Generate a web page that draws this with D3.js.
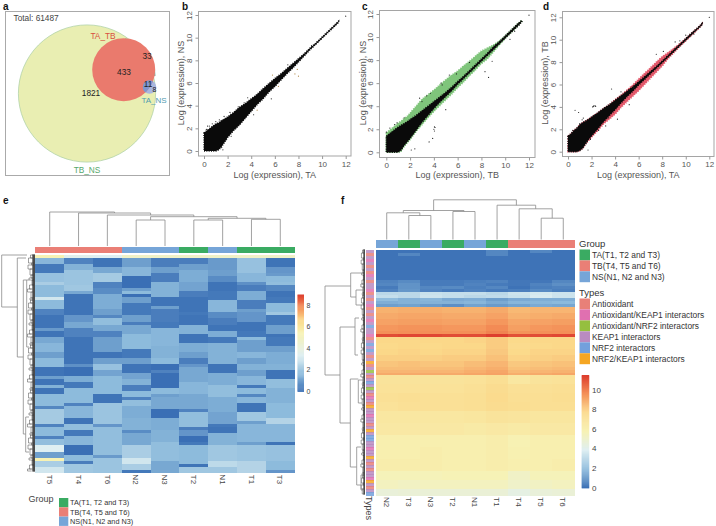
<!DOCTYPE html>
<html>
<head>
<meta charset="utf-8">
<script src="https://cdn.jsdelivr.net/npm/d3@7"></script>
<style>
  html, body { margin: 0; background: #fff; }
  svg { display: block; font-family: "Liberation Sans", Arial, sans-serif; }
</style>
</head>
<body>
<svg id="fig" width="716" height="526"></svg>
<script>
// ---- panel a
const vennSets = ["TB_NS", "TA_TB", "TA_NS"];
const vennSizes = [2262, 477, 19];
const vennCounts = [1821, 433, 33, 11, 8];
const vennTotal = 61487;

// ---- panels b, c, d : envelope of the dense clouds
const bandX = [0,.25,.5,.75,1,1.25,1.5,1.75,2,2.5,3,3.5,4,4.5,5,5.5,6,6.5,7,7.5,8,8.5,9,9.5,10,10.5,11,11.4];
const bHi = [1.6,1.8,2,2.2,2.4,2.5,2.7,2.85,3,3.4,3.85,4.2,4.6,5,5.5,5.95,6.4,6.8,7.25,7.7,8.15,8.6,9.1,9.55,10.05,10.55,11.05,11.45];
const bLo = [0,0,0,0,0,.1,.4,.8,1.2,1.8,2.3,2.9,3.5,4.1,4.6,5.2,5.7,6.25,6.8,7.3,7.85,8.4,8.95,9.45,9.95,10.45,10.95,11.35];
const cHi = [1.4,1.6,1.8,2,2.2,2.35,2.5,2.65,2.85,3.2,3.6,4,4.4,4.8,5.2,5.65,6.15,6.6,7.1,7.6,8.1,8.6,9.15,9.6,10.1,10.6,11.1,11.45];
const cLo = [0,0,0,0,0,.2,.6,.9,1.2,1.9,2.6,3.2,3.8,4.35,4.85,5.35,5.9,6.4,6.9,7.4,7.9,8.4,8.9,9.4,9.9,10.4,10.9,11.35];
const cDegHi = [1.7,1.9,2.1,2.3,2.55,2.7,2.95,3.1,3.4,4,4.6,5,5.4,5.85,6.3,6.7,7.05,7.5,7.9,8.35,8.8,9.05,9.3,9.65,10.1,10.6,11.1,11.45];
const cDegLo = [0,0,0,0,0,.1,.5,.8,1.1,1.8,2.4,3,3.55,4.05,4.55,5.05,5.6,6.1,6.65,7.15,7.7,8.1,8.7,9.3,9.9,10.4,10.9,11.35];
const dHi = [1.4,1.6,1.9,2.1,2.4,2.6,2.75,2.9,3.1,3.45,3.85,4.2,4.6,5,5.4,5.8,6.25,6.7,7.15,7.6,8.1,8.6,9.1,9.6,10.1,10.6,11.05,11.45];
const dLo = [0,0,0,0,.1,.3,.7,1.1,1.4,2,2.65,3.2,3.75,4.35,4.9,5.4,5.95,6.45,6.95,7.45,7.95,8.45,8.95,9.45,9.95,10.45,10.95,11.35];
const dDegHi = [1.4,1.6,1.9,2.1,2.4,2.6,2.75,2.9,3.1,3.45,3.85,4.2,4.65,5.05,5.5,5.95,6.5,7,7.5,8,8.5,8.85,9.25,9.65,10.1,10.6,11.05,11.45];
const dDegLo = [0,0,0,0,.1,.3,.7,1,1.3,1.85,2.45,2.9,3.35,3.95,4.45,4.95,5.45,6,6.55,7.1,7.65,8.3,8.85,9.4,9.9,10.4,10.9,11.35];

// single points away from the clouds
const bPtsX = [.3,.2,.45,.7,1,1.3,1.6,1.9,2.3,2.7,3.1,3.7,4.2,4.5,5.7,5.8,6.3,7.1,7.7,7.9,8,9.1,11.1,11.2,11.3,11.4,12,1.7,1.5,2.2,2.9,3.4];
const bPtsY = [2.2,1.9,2.2,2.4,2.6,2.75,.1,1,1.3,2,2.4,4.7,3.2,3.6,4.6,6.7,5.7,7.6,6.8,7.2,6.6,9.3,11.1,11.2,11.3,11.45,11.9,3.05,.3,3.4,3.9,4.25];
const cPtsX = [0,.3,.7,.9,2.4,2.8,3,3.4,3.7,4,4.05,4.1,4.05,3.6,3.9,5,4.7,5.9,8.6,8.3,8.9,10.4,10.8,11.1,11.3,11.2,11,12,2.1,1.5,4.6,5.3,7];
const cPtsY = [1.75,2.1,2.4,2.55,.3,4.7,4.4,4.9,5.1,2,2.2,2.15,1.85,.9,1.2,3.7,5.85,6.8,6.5,7,7.9,9.8,10.5,11.15,11.2,11.05,10.9,11.9,.2,3,6,6.7,7.8];
const dPtsX = [.6,.9,1,1.3,1.5,2.15,2.2,2.3,2.35,2.1,3.7,.8,.4,1.2,1.7,3.2,3.4,4.2,4.5,5.6,5.2,7.5,8.1,9.1,9.5,10,10.7,11.1,11.3,11.35,12,2.6,1.6,1.9];
const dPtsY = [3.7,3.5,2.5,3,2.7,4.05,4.1,4.1,4.05,4,5.6,2.1,1.9,2.85,.15,2.3,3,2.9,5.35,5.7,4.2,8.7,8.95,9.8,9.9,10.4,10.5,11.1,11.3,11.45,12,1.9,.9,1.1];

// ---- panel e, one [value, last row] list per sample
const eRows = 72;
const eT5 = [[5.4,1],[1.5,3],[.2,6],[1.8,9],[2.2,10],[1.6,14],[3,15],[1.6,18],[.4,20],[.1,24],[.9,25],[.1,27],[1.2,29],[1.5,32],[1,34],[1.6,37],[.1,40],[1,41],[.1,43],[1.4,44],[.1,46],[1.6,50],[.5,51],[2.1,56],[.4,57],[1.6,60],[.4,61],[1.7,63],[3.3,65],[1,67],[5.4,68],[2.2,70],[3,72]];
const eT4 = [[3.5,1],[.4,3],[1.4,5],[1.9,10],[2,12],[1.2,13],[.1,20],[.8,22],[1.2,24],[.4,27],[.1,36],[.7,37],[0,40],[1.3,42],[.2,44],[1.6,49],[.4,50],[1.5,54],[.1,56],[1.7,58],[.2,60],[1.5,63],[0,66],[1.6,68],[.3,69],[2,72]];
const eT6 = [[3.3,1],[.1,4],[1.2,6],[2.1,9],[.4,11],[.6,13],[1.3,18],[1,20],[.5,21],[1.7,23],[1.2,25],[.4,27],[1,32],[.1,34],[1,36],[1.8,38],[1.1,40],[1.6,46],[.1,49],[1.9,56],[.8,57],[1.7,66],[.9,67],[1.9,72]];
const eN2 = [[4.8,1],[1,4],[1.5,7],[0,11],[1,12],[1.6,13],[0,14],[1,16],[.2,20],[1,22],[.3,23],[1.2,26],[1.6,31],[.2,34],[1,36],[.1,39],[1.1,41],[1.4,43],[.3,45],[1.6,47],[.4,48],[1.7,50],[1.3,54],[1.4,58],[.6,59],[1.2,63],[2.2,67],[3,69],[2.2,71],[.2,72]];
const eN3 = [[4.8,1],[.3,4],[1,6],[.3,9],[1.4,14],[.1,17],[1,18],[.3,22],[.2,24],[1.5,30],[1.4,34],[1.6,36],[0,38],[.4,39],[0,44],[1.6,46],[1,47],[1.2,51],[0,54],[1.3,58],[1.4,62],[1.7,68],[1.2,72]];
const eT2 = [[4.8,1],[.3,3],[1,5],[1.3,9],[1.1,12],[.3,14],[.1,19],[.2,20],[.1,23],[1.4,26],[.1,29],[1.3,32],[1,34],[.3,36],[.8,37],[1.2,42],[1.5,46],[1.2,51],[.4,52],[1.7,57],[.3,58],[.8,60],[0,62],[.2,63],[1.6,69],[.1,70],[2,72]];
const eN1 = [[4.8,1],[.9,5],[1,7],[.6,9],[.1,12],[.2,15],[1.5,19],[.6,21],[.3,23],[.1,25],[1.3,27],[.2,29],[1.4,36],[.1,39],[1.3,43],[1.7,47],[1.3,52],[1.1,56],[.2,57],[.1,59],[1.4,63],[2,68],[2.6,70],[2,72]];
const eT1 = [[4.8,1],[1.8,6],[1.5,9],[.7,10],[.3,12],[1.3,15],[.3,18],[1,19],[.8,22],[.1,25],[.2,27],[1.6,28],[1,32],[1.5,34],[1,36],[1.4,38],[1,40],[1.5,43],[.2,44],[1.6,46],[.5,47],[1.5,49],[.1,52],[2,55],[1,56],[1.5,62],[1,63],[1.9,68],[2.4,72]];
const eT3 = [[4.8,1],[.1,4],[.8,6],[.9,7],[1.6,9],[1.7,10],[.5,12],[.1,14],[.2,16],[1.6,19],[2,20],[.2,23],[1,26],[.1,27],[.2,30],[1,32],[1.3,36],[1.4,38],[.1,41],[1.7,44],[1.4,49],[1.6,54],[2.4,56],[1.5,62],[.1,63],[1.8,68],[1.6,71],[.8,72]];
const eSamples = {T5: eT5, T4: eT4, T6: eT6, N2: eN2, N3: eN3, T2: eT2, N1: eN1, T1: eT1, T3: eT3};

// column trees: [merge height, left, right]
const eColTree = [34,"T5",[33,"T4",[31,"T6",[29.3,[26,"N2","N3"],[27.7,[26,"T2","N1"],[26.7,"T1","T3"]]]]]];
const fColTree = [39.7,[29,[26.7,"N2",[24,"T3","N3"]],[28,"T2","N1"]],[34.3,"T1",[30.7,"T4",[21.3,"T5","T6"]]]];

// row trees: [height, gene a, gene b, height of child a, height of child b]
const eRowMerges = [
  [33.3, 0, 52, 8, 17.7],
  [17.7, 3, 102, 9, 11.7],
  [11.7, 25, 179, 8.3, 9.3],
  [8.3, 25, 92, 6, 6],
  [9.3, 162, 197, 6, 6]
];
const fRowMerges = [
  [40, 36, 125, 14.3, 25],
  [14.3, 23, 47, 1, 9],
  [9, 40, 55, 2, 3],
  [25, 77, 173, 10, 14.7],
  [10, 68, 105, 6, 7],
  [14.7, 129, 217, 6.7, 8.3],
  [6.7, 130, 153, 2, 3],
  [8.3, 197, 235, 4, 4],
  [4, 225, 240, 2, 2]
];
const jagSteps = [3,5,2,4,6,3,2,5,4,3,6,2];
const jagHeights = [4.5,6.5,3.5,7,5,4,6,3,5.5,7.5,4,5];

// ---- panel f, gene count of each block and one value per sample
const fOrder = ["N2","T3","N3","T2","N1","T1","T4","T5","T6"];
const fCounts = [1,1,8,1,1,1,1,1,1,1,1,1,2,2,2,2,1,1,2,2,2,2,2,1,1,1,3,3,3,3,4,4,4,4,4,3,3,2];
const fValues = [
  [.1,.1,.1,.1,.1,.6,.1,.6,.1],
  [.1,.6,.1,.1,.1,.6,.1,.1,.1],
  [.1,.1,.1,.1,.1,.1,.1,.1,.1],
  [.5,.7,.3,.3,.4,.5,.2,.2,.6],
  [.6,.9,.3,.3,.5,.3,.2,.5,.8],
  [.3,.9,.6,.7,.4,.6,.1,.4,.5],
  [.5,1,.5,.3,.5,.3,.4,.7,.4],
  [3,3,3.3,3.2,3.2,3,3.4,3.6,3.4],
  [3.2,3,3.4,3.2,3,3.1,3.3,3.7,3.4],
  [2,1.7,1.8,1.5,1.6,1.2,1.5,1.6,1.6],
  [1.6,1.7,1.7,1.7,1.8,1.5,1.8,1.8,1.9],
  [1.2,1.3,1.1,.8,1.3,1.1,1.3,1.5,1.4],
  [8.7,8.8,8.8,8.7,8.7,8.9,8.5,8.6,8.6],
  [8.9,9,9,8.9,8.9,9.1,8.7,8.8,8.9],
  [9.1,9.2,9.2,9.1,9.1,9.4,9,9.1,9.2],
  [9.4,9.5,9.5,9.4,9.4,9.7,9.2,9.4,9.5],
  [9.6,9.6,9.6,9.6,9.6,9.9,9.5,9.6,9.6],
  [11.1,11.2,11.2,11.1,11.1,11.4,11,11.1,11.2],
  [7.7,7.7,7.7,7.7,7.8,8,7.6,7.7,7.7],
  [7.6,7.7,7.6,7.7,7.7,8,7.5,7.6,7.7],
  [7.7,7.8,7.7,7.8,7.8,8.1,7.6,7.8,7.8],
  [7.9,7.9,7.9,8,8,8.3,7.8,7.9,8],
  [8.2,8.3,8.2,8.2,8.4,8.6,8.1,8.2,8.3],
  [8.4,8.4,8.4,8.4,8.6,8.8,8.3,8.4,8.5],
  [8.6,8.6,8.6,8.6,8.8,9,8.5,8.6,8.7],
  [8.9,8.9,8.9,8.9,9,9.1,8.8,8.9,9],
  [6.9,6.9,6.9,6.9,7,7.2,6.6,6.9,7],
  [7,7,7,7,7.1,7.4,7.1,7.1,7.2],
  [7.1,7.2,7.1,7.1,7.2,7.5,7.2,7.2,7.3],
  [7,7.1,7.1,7.1,7.2,7.4,7.3,7.2,7.2],
  [6.6,6.6,6.6,6.6,6.7,6.9,6.8,6.7,6.7],
  [6.5,6.5,6.5,6.5,6.4,6.5,6.4,6.5,6.5],
  [6,6,6,6,6,6.1,5.8,6,6],
  [6,6,6.1,6,6,6.1,5.9,6,6],
  [6.1,6.1,6.1,6,6,6.1,6,6,6.1],
  [5.6,5.6,5.6,5.7,5.7,5.7,5.2,5.6,5.6],
  [5.4,5.3,5.4,5.4,5.4,5.4,5.1,5.3,5.4],
  [4.6,4.7,4.7,4.7,4.7,4.7,4.3,4.6,4.7]
];
// type of each gene in the left strip of panel f
const fTypes = [3,0,3,1,3,0,3,0,1,3,0,3,3,1,0,3,0,3,1,0,3,0,3,1,3,4,3,3,1,0,3,4,3,4,3,0,3,5,0,3,2,3,0,3,4,3,2,3,0,1,3,0,5,3,3,1,3,3,0,3,5,3,4,4,3,3,1,3,3,5,3,0,3,0,3,3,1,5,3,0,3,4];

const groupNames = ["TA(T1, T2 and T3)", "TB(T4, T5 and T6)", "NS(N1, N2 and N3)"];
const groupColors = ["#3aab62", "#ea7f76", "#76a5d8"];
const typeNames = ["Antioxidant", "Antioxidant/KEAP1 interactors", "Antioxidant/NRF2 interactors", "KEAP1 interactors", "NRF2 interactors", "NRF2/KEAP1 interactors"];
const typeColors = ["#e88078", "#e070b0", "#95bf3f", "#b98bc0", "#72a0dc", "#f5a623"];
const logTicks = [0, 2, 4, 6, 8, 10, 12];
const eBarTicks = [0, 2, 4, 6, 8];
const fBarTicks = [0, 2, 4, 6, 8, 10];
const heatStops = ["#3a6fb5", "#8dbbdc", "#dfeff2", "#f7f2b4", "#fbd98a", "#f49058", "#dc3a2c"];
const eStopValues = [0, 1.6, 3.3, 5.4, 6.6, 7.8, 9];

const svg = d3.select("#fig");
const lineGray = "#8a8a8a", textGray = "#555";

const groupOf = (s) => s[0] === "N" ? 2 : (+s[1] <= 3 ? 0 : 1);

function label(text, x, y, opts = {}) {
  return svg.append("text").text(text)
    .attr("x", x).attr("y", y)
    .attr("dy", "0.35em")
    .attr("font-size", opts.size || 8)
    .attr("font-weight", opts.weight || "normal")
    .attr("fill", opts.fill || "#333")
    .attr("text-anchor", opts.anchor || "start")
    .attr("transform", opts.rotate ? `rotate(${opts.rotate} ${x} ${y})` : null);
}

// Panel letters
[["a", 3, 6], ["b", 182, 6], ["c", 362, 6], ["d", 543, 6], ["e", 3, 200], ["f", 341, 200]]
  .forEach(([t, x, y]) => label(t, x, y, { size: 10, weight: "bold", fill: "#111" }));

// ---------- a: venn
function drawVenn() {
  const r = d3.scaleSqrt().domain([0, vennSizes[0]]).range([0, 68.6]);
  const g = svg.append("g");
  svg.append("clipPath").attr("id", "tealClip").append("rect")
    .attr("x", 125).attr("y", 30).attr("width", 40).attr("height", 46);
  g.append("rect").attr("x", 5.5).attr("y", 11.5).attr("width", 164).attr("height", 164)
    .attr("fill", "#fff").attr("stroke", "#aaa");
  g.append("circle").attr("cx", 87).attr("cy", 93.5).attr("r", r(vennSizes[0]))
    .attr("fill", "#e9eeb2").attr("stroke", "#a9cfa4").attr("stroke-width", .7);
  g.append("circle").attr("cx", 118).attr("cy", 75).attr("r", 37.5)
    .attr("clip-path", "url(#tealClip)").attr("fill", "#7db9ae");
  g.append("circle").attr("cx", 149.5).attr("cy", 87).attr("r", r(vennSizes[2]) + .5)
    .attr("fill", "#a9b7e0");
  g.append("circle").attr("cx", 123.7).attr("cy", 69.7).attr("r", r(vennSizes[1]))
    .attr("fill", "#ea7a6d");
  svg.append("clipPath").attr("id", "redClip").append("circle")
    .attr("cx", 123.7).attr("cy", 69.7).attr("r", r(vennSizes[1]));
  g.append("circle").attr("cx", 149.5).attr("cy", 87).attr("r", r(vennSizes[2]) + .5)
    .attr("clip-path", "url(#redClip)").attr("fill", "#7f97cf");

  label("Total: " + vennTotal, 13.5, 18, { size: 8.3, fill: "#444" });
  label(vennSets[1], 103, 36, { size: 8.3, fill: "#d8503f", anchor: "middle" });
  label(vennSets[2], 154, 100.5, { size: 8, fill: "#4f9bb0", anchor: "middle" });
  label(vennSets[0], 87, 170.5, { size: 8.3, fill: "#57a86b", anchor: "middle" });
  const spots = [[91, 93], [124, 72], [147, 56], [148, 84], [154.5, 90]];
  vennCounts.forEach((c, i) => label(c, spots[i][0], spots[i][1], { size: i === 4 ? 7 : 8.3, fill: "#222", anchor: "middle" }));
}
drawVenn();

// ---------- b, c, d: scatter plots
function scatterPanel(p) {
  const x = d3.scaleLinear().domain([0, 12]).range([p.x0, p.x1]);
  const y = d3.scaleLinear().domain([0, 12]).range([p.y0, p.y1]);
  const g = svg.append("g");
  const area = (hi, lo) => d3.area().x((d) => x(d)).y0((d, i) => y(lo[i])).y1((d, i) => y(hi[i]))(bandX);

  if (p.degHi) {
    g.append("path").attr("d", area(p.degHi, p.degLo))
      .attr("fill", p.degColor).attr("stroke", p.degColor)
      .attr("stroke-width", 1.6).attr("stroke-dasharray", "1 1.4").attr("opacity", .9);
  }
  // dashed outline breaks up the edge of the cloud
  g.append("path").attr("d", area(p.hi, p.lo))
    .attr("fill", "#0a0a0a").attr("stroke", "#0a0a0a")
    .attr("stroke-width", 1.5).attr("stroke-dasharray", "1 1.3");
  g.selectAll("circle").data(p.ptsX).join("circle")
    .attr("cx", (d) => x(d))
    .attr("cy", (d, i) => y(p.ptsY[i]))
    .attr("r", .6)
    .attr("fill", (d, i) => (p.tan && p.tan.includes(i)) ? "#b08a4a" : "#222");

  g.append("rect").attr("x", p.bx0).attr("y", p.by0)
    .attr("width", p.bx1 - p.bx0).attr("height", p.by1 - p.by0)
    .attr("fill", "none").attr("stroke", "#a5a5a5");

  const xAxis = g.append("g").attr("transform", `translate(0,${p.by1})`)
    .call(d3.axisBottom(x).tickValues(logTicks).tickSize(3).tickPadding(2).tickFormat(d3.format("d")));
  const yAxis = g.append("g").attr("transform", `translate(${p.bx0},0)`)
    .call(d3.axisLeft(y).tickValues(logTicks).tickSize(3).tickPadding(3).tickFormat(d3.format("d")));
  [xAxis, yAxis].forEach((a) => {
    a.select(".domain").remove();
    a.selectAll(".tick line").attr("stroke", "#999");
    a.selectAll("text").attr("fill", textGray).attr("font-size", 8).attr("font-family", "Liberation Sans");
  });
  yAxis.selectAll("text").attr("text-anchor", "middle").attr("x", 0).attr("dy", 0)
    .attr("transform", "translate(-7,0) rotate(-90)");

  label("Log (expression), " + p.xName, (p.bx0 + p.bx1) / 2, 175, { size: 9, fill: textGray, anchor: "middle" });
  label("Log (expression), " + p.yName, p.titleX, 83, { size: 9, fill: textGray, anchor: "middle", rotate: -90 });
}

scatterPanel({
  x0: 204, x1: 345.7, y0: 151, y1: 15, bx0: 198.5, bx1: 351, by0: 11.5, by1: 156,
  hi: bHi, lo: bLo, ptsX: bPtsX, ptsY: bPtsY, tan: [15, 18, 19, 20, 16, 13],
  xName: "TA", yName: "NS", titleX: 181
});
scatterPanel({
  x0: 386.3, x1: 529, y0: 152.3, y1: 14, bx0: 379.5, bx1: 535, by0: 10.5, by1: 157.5,
  hi: cHi, lo: cLo, degHi: cDegHi, degLo: cDegLo, degColor: "#72bf6d", ptsX: cPtsX, ptsY: cPtsY,
  xName: "TB", yName: "NS", titleX: 363
});
scatterPanel({
  x0: 568, x1: 709.3, y0: 151.7, y1: 17.3, bx0: 562.5, bx1: 714, by0: 11.5, by1: 156.5,
  hi: dHi, lo: dLo, degHi: dDegHi, degLo: dDegLo, degColor: "#e0485c", ptsX: dPtsX, ptsY: dPtsY,
  xName: "TA", yName: "TB", titleX: 545
});

// ---------- shared heatmap parts
function leaves(t) {
  return typeof t === "string" ? [t] : leaves(t[1]).concat(leaves(t[2]));
}

function drawColTree(tree, x, yBase, g) {
  const yS = d3.scaleLinear().domain([0, 40]).range([yBase, yBase - 40]);
  const path = d3.path();
  (function walk(t) {
    if (typeof t === "string") return { c: x(t) + x.bandwidth() / 2, y: yS(0) };
    const a = walk(t[1]), b = walk(t[2]), top = yS(t[0]);
    path.moveTo(a.c, a.y); path.lineTo(a.c, top); path.lineTo(b.c, top); path.lineTo(b.c, b.y);
    return { c: (a.c + b.c) / 2, y: top };
  })(tree);
  g.append("path").attr("d", path.toString()).attr("fill", "none").attr("stroke", lineGray).attr("stroke-width", .8);
}

function drawRowTree(merges, genes, hScale, y, g, jagScale, tipH) {
  const coarse = d3.path(), fine = d3.path();
  merges.forEach(([h, a, b, ha, hb]) => {
    coarse.moveTo(hScale(ha), y(a)); coarse.lineTo(hScale(h), y(a));
    coarse.lineTo(hScale(h), y(b)); coarse.lineTo(hScale(hb), y(b));
  });
  // small brackets next to the leaves
  let i = 0, k = 0;
  while (i < genes) {
    const step = jagSteps[k % jagSteps.length], h = jagHeights[k % jagHeights.length] * jagScale;
    const end = Math.min(i + step, genes - 1);
    fine.moveTo(hScale(h * .45), y(i)); fine.lineTo(hScale(h), y(i));
    fine.lineTo(hScale(h), y(end)); fine.lineTo(hScale(h * .45), y(end));
    i += step; k++;
  }
  g.append("path").attr("d", fine.toString()).attr("fill", "none").attr("stroke", "#555").attr("stroke-width", .55);
  g.append("path").attr("d", coarse.toString()).attr("fill", "none").attr("stroke", lineGray).attr("stroke-width", .8);
  // leaf tips
  g.selectAll("line.tip").data(d3.range(genes)).join("line").attr("class", "tip")
    .attr("x1", hScale(0)).attr("x2", hScale(tipH))
    .attr("y1", (d) => y(d)).attr("y2", (d) => y(d))
    .attr("stroke", "#111").attr("stroke-width", 1);
}

function colorBar(color, x, w, yS, ticks, labelX, size) {
  const vals = d3.range(yS.domain()[0], yS.domain()[1], .1);
  const g = svg.append("g");
  g.selectAll("rect").data(vals).join("rect")
    .attr("x", x).attr("width", w)
    .attr("y", (d) => yS(d + .1))
    .attr("height", (d) => yS(d) - yS(d + .1) + .4)
    .attr("fill", (d) => color(d));
  ticks.forEach((t) => label(t, labelX, yS(t), { size: size, fill: "#444" }));
}

function swatches(names, colors, x, y0, stepY, w, textX, size) {
  const g = svg.append("g");
  const y = d3.scaleBand().domain(names).range([y0, y0 + stepY * names.length]);
  g.selectAll("rect").data(names).join("rect")
    .attr("x", x).attr("y", (d) => y(d)).attr("width", w).attr("height", y.bandwidth())
    .attr("fill", (d, i) => colors[i]);
  names.forEach((n) => label(n, textX, y(n) + y.bandwidth() / 2, { size: size, fill: "#333" }));
}

// ---------- e
function drawE() {
  const order = leaves(eColTree);
  const x = d3.scaleBand().domain(order).range([35.3, 294.7]);
  const y = d3.scaleBand().domain(d3.range(eRows)).range([255, 472.7]);
  const color = d3.scaleLinear().domain(eStopValues).range(heatStops).clamp(true);
  const g = svg.append("g").attr("shape-rendering", "crispEdges");

  drawColTree(eColTree, x, 246, svg.append("g"));
  g.selectAll("rect.ann").data(order).join("rect").attr("class", "ann")
    .attr("x", (d) => x(d)).attr("width", x.bandwidth() + .5)
    .attr("y", 246.7).attr("height", 6)
    .attr("fill", (d) => groupColors[groupOf(d)]);

  order.forEach((s) => {
    let start = 0;
    eSamples[s].forEach(([v, end]) => {
      g.append("rect").attr("x", x(s)).attr("width", x.bandwidth() + .5)
        .attr("y", y(start)).attr("height", y.step() * (end - start) + .5)
        .attr("fill", color(v));
      start = end;
    });
  });

  const gene = d3.scaleLinear().domain([0, 217]).range([255, 472]);
  const hS = d3.scaleLinear().domain([0, 33.3]).range([35, 1.7]);
  drawRowTree(eRowMerges, 217, hS, gene, svg.append("g"), 1, 2.6);

  order.forEach((s) => label(s, x(s) + x.bandwidth() / 2, 479.5, { size: 8, fill: "#444", anchor: "middle", rotate: 90 }));

  const bar = d3.scaleLinear().domain([0, 9]).range([391.5, 294.5]);
  colorBar(color, 297.5, 6.5, bar, eBarTicks, 306.5, 7);

  label("Group", 28.5, 498.5, { size: 9, fill: "#444" });
  swatches(groupNames, groupColors, 59, 498, 9.3, 9.3, 70, 7.3);
}
drawE();

// ---------- f
function drawF() {
  const order = leaves(fColTree);
  const x = d3.scaleBand().domain(order).range([375.7, 574.3]);
  const nGenes = d3.sum(fCounts);
  const y = d3.scaleLinear().domain([0, nGenes]).range([250, 495]);
  const color = d3.scaleLinear().domain(d3.range(7).map((i) => i * 11.5 / 6)).range(heatStops).clamp(true);
  const g = svg.append("g").attr("shape-rendering", "crispEdges");

  drawColTree(fColTree, x, 239.5, svg.append("g"));
  g.selectAll("rect.ann").data(order).join("rect").attr("class", "ann")
    .attr("x", (d) => x(d)).attr("width", x.bandwidth() + .5)
    .attr("y", 240).attr("height", 8)
    .attr("fill", (d) => groupColors[groupOf(d)]);

  let start = 0;
  fCounts.forEach((n, row) => {
    fOrder.forEach((s, j) => {
      g.append("rect").attr("x", x(s)).attr("width", x.bandwidth() + .5)
        .attr("y", y(start)).attr("height", y(start + n) - y(start) + .5)
        .attr("fill", color(fValues[row][j]));
    });
    start += n;
  });

  g.selectAll("rect.type").data(fTypes).join("rect").attr("class", "type")
    .attr("x", 365.7).attr("width", 8)
    .attr("y", (d, i) => y(i)).attr("height", y(1) - y(0) + .5)
    .attr("fill", (d) => typeColors[d]).attr("opacity", .85);

  const gene = d3.scaleLinear().domain([0, 245]).range([250, 495]);
  const hS = d3.scaleLinear().domain([0, 40]).range([365, 325]);
  drawRowTree(fRowMerges, 245, hS, gene, svg.append("g"), .55, 1.6);

  order.forEach((s) => label(s, x(s) + x.bandwidth() / 2, 502, { size: 8, fill: "#444", anchor: "middle", rotate: 90 }));
  label("Types", 369.5, 508, { size: 9, fill: "#444", anchor: "middle", rotate: 90 });

  const bar = d3.scaleLinear().domain([0, 11.5]).range([488, 375]);
  colorBar(color, 581.7, 7.5, bar, fBarTicks, 592, 8);

  label("Group", 579, 243.5, { size: 9.5, fill: "#333" });
  swatches(groupNames, groupColors, 579.5, 249.5, 10.9, 10.5, 592, 8.4);
  label("Types", 579, 292.5, { size: 9.5, fill: "#333" });
  swatches(typeNames, typeColors, 579.5, 298.5, 10.95, 10.5, 592, 8.4);
}
drawF();
</script>
</body>
</html>
